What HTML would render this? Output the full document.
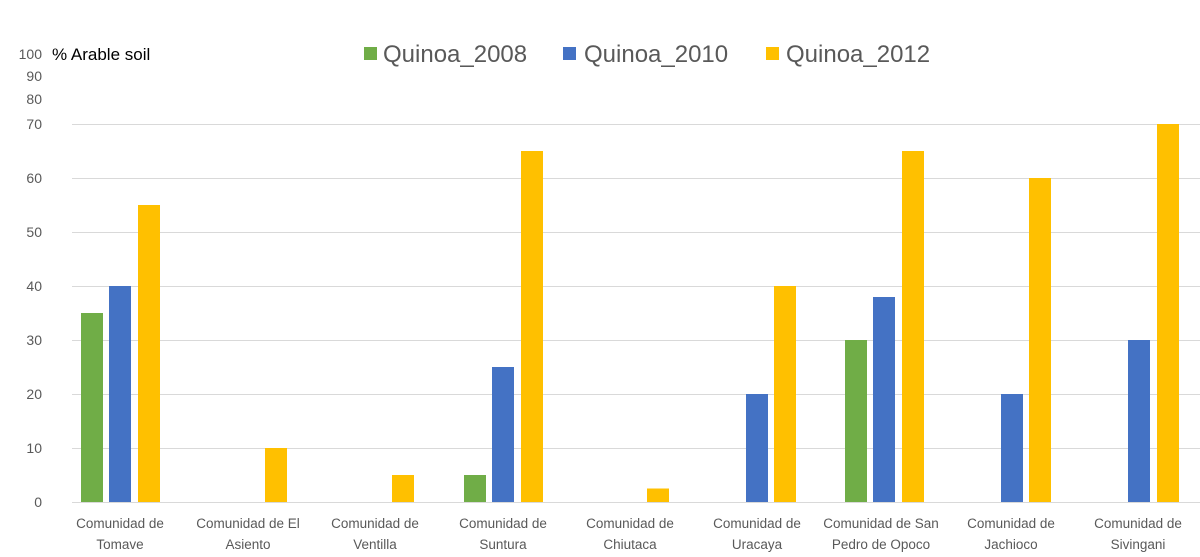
<!DOCTYPE html>
<html><head><meta charset="utf-8"><style>
html,body{margin:0;padding:0;background:#fff;}
svg{display:block;font-family:"Liberation Sans",sans-serif;}
</style></head><body>
<svg width="1200" height="557" viewBox="0 0 1200 557" xmlns="http://www.w3.org/2000/svg">
<g stroke="#d9d9d9" stroke-width="1">
<line x1="72" y1="124.5" x2="1200" y2="124.5"/>
<line x1="72" y1="178.5" x2="1200" y2="178.5"/>
<line x1="72" y1="232.5" x2="1200" y2="232.5"/>
<line x1="72" y1="286.5" x2="1200" y2="286.5"/>
<line x1="72" y1="340.5" x2="1200" y2="340.5"/>
<line x1="72" y1="394.5" x2="1200" y2="394.5"/>
<line x1="72" y1="448.5" x2="1200" y2="448.5"/>
<line x1="72" y1="502.5" x2="1200" y2="502.5"/>
</g>
<g fill="#595959" font-size="14" text-anchor="end">
<text x="42" y="507">0</text>
<text x="42" y="453">10</text>
<text x="42" y="399">20</text>
<text x="42" y="345">30</text>
<text x="42" y="291">40</text>
<text x="42" y="237">50</text>
<text x="42" y="183">60</text>
<text x="42" y="129">70</text>
<text x="42" y="104">80</text>
<text x="42" y="81">90</text>
<text x="42" y="59">100</text>
</g>
<text x="52" y="60" font-size="17" fill="#000">% Arable soil</text>
<g font-size="24" fill="#595959">
<rect x="364" y="47" width="13" height="13" fill="#70ad47"/><text x="383" y="62">Quinoa_2008</text>
<rect x="563" y="47" width="13" height="13" fill="#4472c4"/><text x="584" y="62">Quinoa_2010</text>
<rect x="766" y="47" width="13" height="13" fill="#ffc000"/><text x="786" y="62">Quinoa_2012</text>
</g>
<g>
<!-- Tomave c=120 -->
<rect x="81" y="313" width="22" height="189" fill="#70ad47"/>
<rect x="109" y="286" width="22" height="216" fill="#4472c4"/>
<rect x="138" y="205" width="22" height="297" fill="#ffc000"/>
<!-- El Asiento c=247.3 -->
<rect x="265" y="448" width="22" height="54" fill="#ffc000"/>
<!-- Ventilla c=374.6 -->
<rect x="392" y="475" width="22" height="27" fill="#ffc000"/>
<!-- Suntura c=502 -->
<rect x="464" y="475" width="22" height="27" fill="#70ad47"/>
<rect x="492" y="367" width="22" height="135" fill="#4472c4"/>
<rect x="521" y="151" width="22" height="351" fill="#ffc000"/>
<!-- Chiutaca c=629 -->
<rect x="647" y="488.5" width="22" height="13.5" fill="#ffc000"/>
<!-- Uracaya c=756.5 -->
<rect x="746" y="394" width="22" height="108" fill="#4472c4"/>
<rect x="774" y="286" width="22" height="216" fill="#ffc000"/>
<!-- San Pedro c=884 -->
<rect x="845" y="340" width="22" height="162" fill="#70ad47"/>
<rect x="873" y="297" width="22" height="205" fill="#4472c4"/>
<rect x="902" y="151" width="22" height="351" fill="#ffc000"/>
<!-- Jachioco c=1011 -->
<rect x="1001" y="394" width="22" height="108" fill="#4472c4"/>
<rect x="1029" y="178" width="22" height="324" fill="#ffc000"/>
<!-- Sivingani c=1138 -->
<rect x="1128" y="340" width="22" height="162" fill="#4472c4"/>
<rect x="1157" y="124" width="22" height="378" fill="#ffc000"/>
</g>
<g fill="#595959" font-size="13.5" text-anchor="middle">
<text x="120" y="528">Comunidad de</text><text x="120" y="549">Tomave</text>
<text x="248" y="528">Comunidad de El</text><text x="248" y="549">Asiento</text>
<text x="375" y="528">Comunidad de</text><text x="375" y="549">Ventilla</text>
<text x="503" y="528">Comunidad de</text><text x="503" y="549">Suntura</text>
<text x="630" y="528">Comunidad de</text><text x="630" y="549">Chiutaca</text>
<text x="757" y="528">Comunidad de</text><text x="757" y="549">Uracaya</text>
<text x="881" y="528">Comunidad de San</text><text x="881" y="549">Pedro de Opoco</text>
<text x="1011" y="528">Comunidad de</text><text x="1011" y="549">Jachioco</text>
<text x="1138" y="528">Comunidad de</text><text x="1138" y="549">Sivingani</text>
</g>
</svg>
</body></html>
